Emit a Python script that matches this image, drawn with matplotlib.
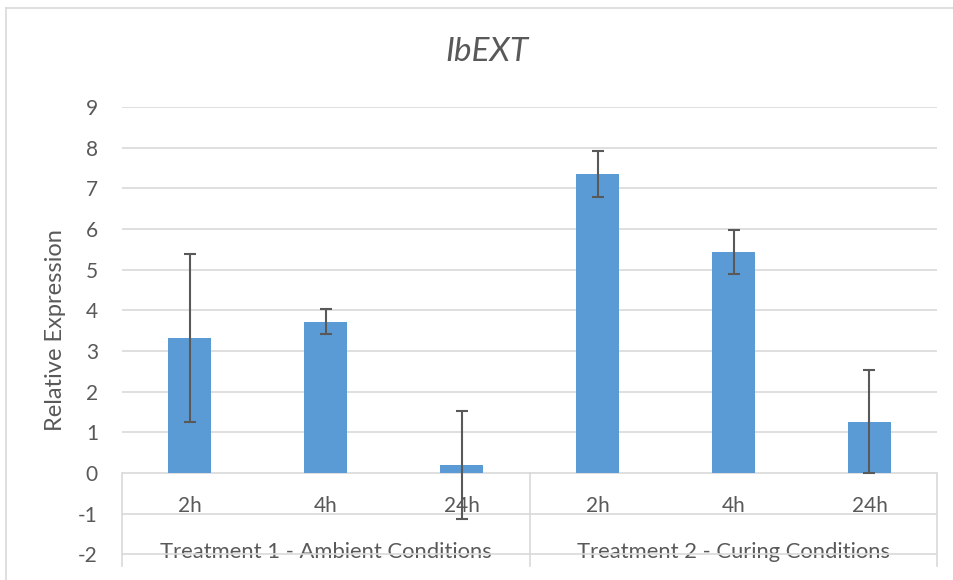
import numpy as np
import matplotlib.pyplot as plt
from matplotlib.lines import Line2D

# data
times = ["2h", "4h", "24h", "2h", "4h", "24h"]
groups = ["Treatment 1 - Ambient Conditions", "Treatment 2 - Curing Conditions"]
group_sizes = [3, 3]
expression = [3.31, 3.72, 0.19, 7.35, 5.43, 1.25]
err_low = [2.05, 0.31, 1.33, 0.57, 0.53, 1.26]
err_high = [2.07, 0.32, 1.33, 0.58, 0.55, 1.28]

bar_colour = "#5B9BD5"
grid_colour = "#D9D9D9"
text_colour = "#595959"
err_colour = "#595959"

plt.rcParams['font.family'] = ['Lato', 'DejaVu Sans']

fig = plt.figure(figsize=(9.54, 5.80), dpi=100)
ax = fig.add_axes([0.1274, 0.0198, 0.8553, 0.7957])

x = np.arange(len(expression))
ax.bar(x, expression, 0.31, color=bar_colour, zorder=3)
ax.errorbar(x, expression, yerr=[err_low, err_high], fmt='none',
            ecolor=err_colour, elinewidth=1.5, capsize=4.5, capthick=1.5, zorder=4)

ax.set_xlim(-0.5, len(expression) - 0.5)
ax.set_ylim(-2.35, 9)
yt = np.arange(-2, 10)
for v in yt:
    ax.axhline(v, color=grid_colour, lw=1.2, zorder=1)
ax.set_yticks(yt)
ax.set_yticklabels([str(v) for v in yt])
ax.tick_params(axis='y', length=0, pad=17, labelsize=15, labelcolor=text_colour)
ax.set_xticks([])
for s in ax.spines.values():
    s.set_visible(False)

# multi-level category axis
bounds = np.concatenate([[0], np.cumsum(group_sizes)]) - 0.5
for b in bounds:
    ax.plot([b, b], [0, -2.3], color=grid_colour, lw=1.2, zorder=2, clip_on=False)
for i, t in enumerate(times):
    ax.text(i, -0.95, t, ha='center', va='baseline', fontsize=15, color=text_colour)
for g, lo, hi in zip(groups, bounds[:-1], bounds[1:]):
    ax.text((lo + hi) / 2, -2.09, g, ha='center', va='baseline', fontsize=15.8,
            color=text_colour, zorder=0)

fig.text(56 / 954, 1 - 330 / 580, "Relative Expression", rotation=90,
         ha='center', va='center', fontsize=17, color=text_colour)

fig.text(487 / 954, 1 - 52 / 580, "IbEXT", ha='center', va='center',
         fontsize=24, style='italic', color=text_colour)

# chart area border
fig.add_artist(Line2D([0.006, 0.006], [0, 0.986], color=grid_colour, lw=1.2))
fig.add_artist(Line2D([0.006, 1.0], [0.986, 0.986], color=grid_colour, lw=1.2))

plt.savefig("out.png", dpi=100)
